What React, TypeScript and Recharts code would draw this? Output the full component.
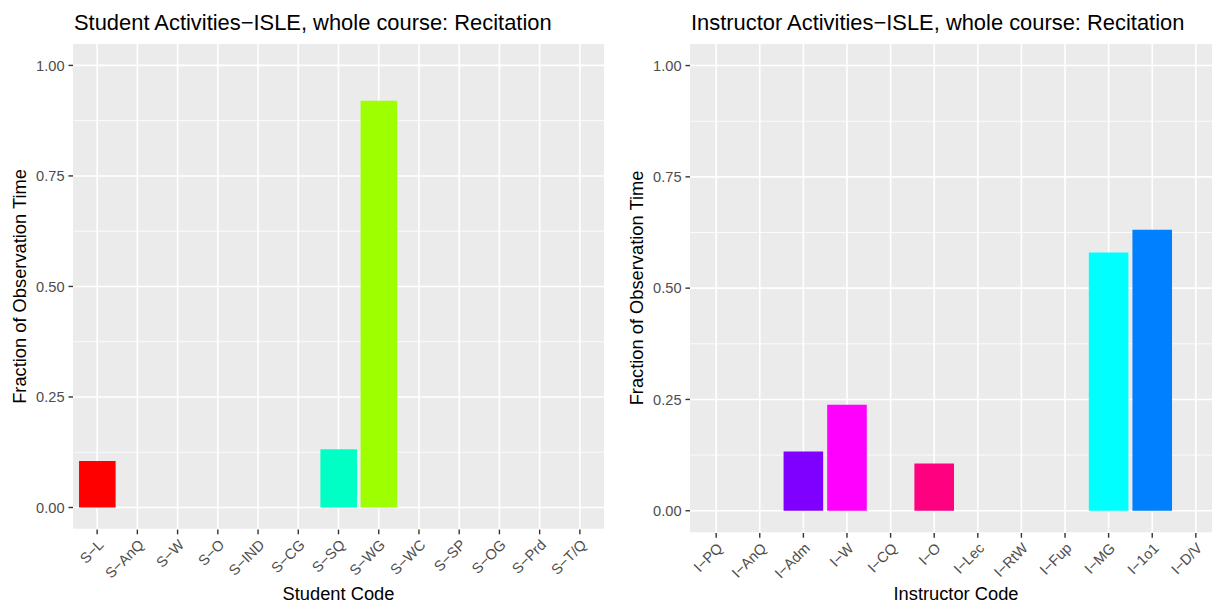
import React from 'react';
import { BarChart, Bar, XAxis, YAxis, CartesianGrid, Cell } from 'recharts';

const studentCodes = ['S−L', 'S−AnQ', 'S−W', 'S−O', 'S−IND', 'S−CG', 'S−SQ', 'S−WG', 'S−WC', 'S−SP', 'S−OG', 'S−Prd', 'S−T/Q'];
const studentFractions = [0.105, 0, 0, 0, 0, 0, 0.132, 0.92, 0, 0, 0, 0, 0];
const studentColors = ['#FF0000', '#FF0000', '#FF0000', '#FF0000', '#FF0000', '#FF0000', '#00FFC4', '#9DFF00', '#FF0000', '#FF0000', '#FF0000', '#FF0000', '#FF0000'];

const instructorCodes = ['I−PQ', 'I−AnQ', 'I−Adm', 'I−W', 'I−CQ', 'I−O', 'I−Lec', 'I−RtW', 'I−Fup', 'I−MG', 'I−1o1', 'I−D/V'];
const instructorFractions = [0, 0, 0.133, 0.238, 0, 0.106, 0, 0, 0, 0.58, 0.631, 0];
const instructorColors = ['#8000FF', '#8000FF', '#8000FF', '#FF00FF', '#FF0080', '#FF0080', '#FF0080', '#FF0080', '#FF0080', '#00FFFF', '#0080FF', '#0080FF'];

const yTicks = [0, 0.25, 0.5, 0.75, 1];
const yMinor = [0.125, 0.375, 0.625, 0.875];

const FONT = '"Liberation Sans", Arial, Helvetica, sans-serif';
const TICK_COLOR = '#4D4D4D';

const SlantTick = ({ x, y, payload }: any) => (
  <text
    x={x}
    y={y}
    transform={`rotate(-45 ${x} ${y})`}
    textAnchor="end"
    dy="0.72em"
    fill={TICK_COLOR}
    fontSize={14.6}
    fontFamily={FONT}
  >
    {payload.value}
  </text>
);

interface PanelProps {
  codes: string[];
  values: number[];
  colors: string[];
  width: number;
  marginRight: number;
  marginBottom: number;
  pad: number;
  barSize: number;
}

function Panel({ codes, values, colors, width, marginRight, marginBottom, pad, barSize }: PanelProps) {
  const data = codes.map((code, i) => ({ code, value: values[i] }));

  // vertical grid lines through the middle of each category band
  const bandCenters = (props: any) => {
    const off = props?.offset;
    if (!off) return [];
    const band = (off.width - 2 * pad) / codes.length;
    return codes.map((_, i) => off.left + pad + band * (i + 0.5));
  };

  return (
    <BarChart
      width={width}
      height={603}
      data={data}
      margin={{ top: 43.3, left: 13, right: marginRight, bottom: marginBottom }}
      barSize={barSize}
    >
      <CartesianGrid
        fill="#EBEBEB"
        stroke="#FFFFFF"
        strokeWidth={1.6}
        verticalCoordinatesGenerator={bandCenters}
      />
      <CartesianGrid
        stroke="#FFFFFF"
        strokeWidth={0.8}
        vertical={false}
        horizontalValues={yMinor}
      />
      <XAxis
        dataKey="code"
        type="category"
        interval={0}
        height={60}
        padding={{ left: pad, right: pad }}
        axisLine={false}
        tickSize={4.7}
        tickMargin={4}
        tickLine={{ stroke: '#333333', strokeWidth: 1.4 }}
        tick={<SlantTick />}
      />
      <YAxis
        type="number"
        width={60}
        domain={[-0.05, 1.05]}
        ticks={yTicks}
        allowDataOverflow
        axisLine={false}
        tickSize={4.5}
        tickMargin={4}
        tickLine={{ stroke: '#333333', strokeWidth: 1.4 }}
        tickFormatter={(v: number) => v.toFixed(2)}
        tick={{ fill: TICK_COLOR, fontSize: 14.6, fontFamily: FONT }}
      />
      <Bar dataKey="value" isAnimationActive={false}>
        {data.map((d, i) => (
          <Cell key={d.code} fill={colors[i]} />
        ))}
      </Bar>
    </BarChart>
  );
}

export default function App() {
  return (
    <div
      style={{
        position: 'fixed',
        left: 0,
        top: 0,
        width: 1212,
        height: 603,
        overflow: 'hidden',
        background: '#FFFFFF',
        fontFamily: FONT,
      }}
    >
      <div style={{ position: 'absolute', left: 0, top: 0 }}>
        <Panel
          codes={studentCodes}
          values={studentFractions}
          colors={studentColors}
          width={610}
          marginRight={6}
          marginBottom={13.4}
          pad={4.02}
          barSize={36.6}
        />
      </div>
      <div style={{ position: 'absolute', left: 617, top: 0 }}>
        <Panel
          codes={instructorCodes}
          values={instructorFractions}
          colors={instructorColors}
          width={612}
          marginRight={7}
          marginBottom={10}
          pad={4.36}
          barSize={39.6}
        />
      </div>
      <svg
        width={1212}
        height={603}
        style={{ position: 'absolute', left: 0, top: 0, pointerEvents: 'none' }}
        fontFamily={FONT}
      >
        <text x={74} y={30} fontSize={21.9} fill="#000000">
          Student Activities−ISLE, whole course: Recitation
        </text>
        <text x={691} y={30} fontSize={21.9} fill="#000000">
          Instructor Activities−ISLE, whole course: Recitation
        </text>
        <text x={338.5} y={600} fontSize={18.3} textAnchor="middle" fill="#000000">
          Student Code
        </text>
        <text x={956} y={600} fontSize={18.3} textAnchor="middle" fill="#000000">
          Instructor Code
        </text>
        <text
          x={25.5}
          y={286.5}
          fontSize={18.3}
          textAnchor="middle"
          transform="rotate(-90 25.5 286.5)"
          fill="#000000"
        >
          Fraction of Observation Time
        </text>
        <text
          x={642.5}
          y={288}
          fontSize={18.3}
          textAnchor="middle"
          transform="rotate(-90 642.5 288)"
          fill="#000000"
        >
          Fraction of Observation Time
        </text>
      </svg>
    </div>
  );
}
